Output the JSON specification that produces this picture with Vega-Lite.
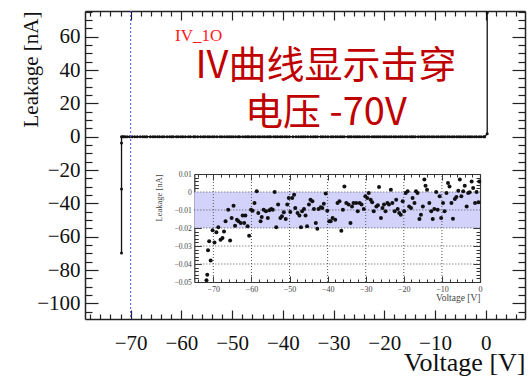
{
  "$schema": "https://vega.github.io/schema/vega-lite/v6.json",
  "width": 440,
  "height": 308,
  "autosize": {"type": "none"},
  "padding": {"left": 85, "top": 11, "right": 4, "bottom": 57},
  "background": "white",
  "config": {"view": {"stroke": null}, "font": "Liberation Serif"},
  "datasets": {
    "iv": [
      {"V": -71.8, "I": -69.8}, {"V": -71.8, "I": -31.4}, {"V": -71.8, "I": -3.8},
      {"V": -71.8, "I": -0.049}, {"V": -71.6, "I": -0.046}, {"V": -71.4, "I": -0.0324}, {"V": -71.1, "I": -0.0274},
      {"V": -70.7, "I": -0.038}, {"V": -70.2, "I": -0.0213}, {"V": -69.7, "I": -0.028}, {"V": -69.2, "I": -0.0224},
      {"V": -68.7, "I": -0.0196}, {"V": -68.1, "I": -0.0265}, {"V": -67.6, "I": -0.0256}, {"V": -67.2, "I": -0.0219},
      {"V": -66.8, "I": -0.0163}, {"V": -66.1, "I": -0.0098}, {"V": -65.6, "I": -0.027}, {"V": -65.2, "I": -0.0144},
      {"V": -64.7, "I": -0.0076}, {"V": -64.3, "I": -0.0187}, {"V": -63.8, "I": -0.0154}, {"V": -63.4, "I": -0.0163},
      {"V": -62.8, "I": -0.0172}, {"V": -62.3, "I": -0.0131}, {"V": -61.9, "I": -0.0172}, {"V": -61.6, "I": -0.0131},
      {"V": -61.0, "I": -0.019}, {"V": -60.6, "I": -0.0243}, {"V": -60.1, "I": -0.0098}, {"V": -59.7, "I": -0.0104},
      {"V": -59.2, "I": -0.0061}, {"V": -58.6, "I": 0.0004}, {"V": -58.2, "I": -0.0117}, {"V": -57.6, "I": -0.0163},
      {"V": -57.3, "I": -0.0139}, {"V": -56.8, "I": -0.0098}, {"V": -56.2, "I": -0.0107}, {"V": -55.7, "I": -0.0144},
      {"V": -55.3, "I": -0.0102}, {"V": -54.8, "I": -0.0094}, {"V": -54.4, "I": -0.0098}, {"V": -53.9, "I": 0.0},
      {"V": -53.5, "I": -0.0196}, {"V": -53.0, "I": -0.007}, {"V": -52.4, "I": -0.0144}, {"V": -52.0, "I": -0.0135},
      {"V": -51.5, "I": -0.0113}, {"V": -51.0, "I": -0.015}, {"V": -50.6, "I": -0.007}, {"V": -50.2, "I": -0.0033},
      {"V": -49.8, "I": -0.0111}, {"V": -49.3, "I": -0.0033}, {"V": -48.8, "I": -0.0015}, {"V": -48.5, "I": -0.0089},
      {"V": -47.9, "I": -0.0117}, {"V": -47.4, "I": -0.0131}, {"V": -47.0, "I": -0.0196}, {"V": -46.7, "I": -0.0107},
      {"V": -46.2, "I": -0.0094}, {"V": -45.8, "I": -0.0131}, {"V": -45.4, "I": -0.019}, {"V": -44.9, "I": -0.007},
      {"V": -44.5, "I": -0.0043}, {"V": -44.0, "I": -0.0052}, {"V": -43.6, "I": -0.0094}, {"V": -43.1, "I": -0.0172},
      {"V": -42.7, "I": -0.0204}, {"V": -42.4, "I": -0.0094}, {"V": -41.8, "I": -0.0085}, {"V": -41.4, "I": -0.0089},
      {"V": -41.0, "I": -0.0065}, {"V": -40.5, "I": -0.0009}, {"V": -40.1, "I": -0.0104}, {"V": -39.6, "I": -0.0163},
      {"V": -39.2, "I": -0.0163}, {"V": -38.7, "I": -0.0144}, {"V": -38.0, "I": -0.0154}, {"V": -37.4, "I": -0.0061},
      {"V": -36.9, "I": -0.0052}, {"V": -36.4, "I": -0.0215}, {"V": -36.0, "I": -0.0098}, {"V": -35.6, "I": 0.0031},
      {"V": -35.1, "I": -0.0061}, {"V": -34.5, "I": -0.007}, {"V": -34.0, "I": -0.0172}, {"V": -33.6, "I": -0.008},
      {"V": -33.2, "I": -0.0061}, {"V": -32.5, "I": -0.0061}, {"V": -32.1, "I": -0.0107}, {"V": -31.6, "I": -0.0061},
      {"V": -31.1, "I": -0.007}, {"V": -30.5, "I": -0.0094}, {"V": -30.1, "I": -0.0024}, {"V": -29.6, "I": -0.0033},
      {"V": -29.2, "I": -0.0006}, {"V": -28.7, "I": -0.0043}, {"V": -28.3, "I": -0.0057}, {"V": -27.9, "I": -0.0107},
      {"V": -27.2, "I": -0.008}, {"V": -26.8, "I": -0.0074}, {"V": -26.5, "I": 0.0028}, {"V": -26.0, "I": -0.0144},
      {"V": -25.6, "I": -0.0089}, {"V": -25.2, "I": -0.007}, {"V": -24.8, "I": -0.0107}, {"V": -24.3, "I": -0.0061},
      {"V": -23.9, "I": -0.007}, {"V": -23.4, "I": 0.0013}, {"V": -23.0, "I": -0.0061}, {"V": -22.4, "I": -0.0107},
      {"V": -22.0, "I": -0.0043}, {"V": -21.6, "I": -0.0094}, {"V": -21.2, "I": -0.0117}, {"V": -20.8, "I": -0.0126},
      {"V": -20.3, "I": -0.0052}, {"V": -19.9, "I": -0.0107}, {"V": -19.5, "I": -0.0006}, {"V": -19.0, "I": 0.0004},
      {"V": -18.6, "I": -0.008}, {"V": -18.1, "I": -0.0089}, {"V": -17.7, "I": -0.0033}, {"V": -17.2, "I": -0.0061},
      {"V": -16.8, "I": 0.0004}, {"V": -16.4, "I": -0.0006}, {"V": -15.9, "I": -0.015}, {"V": -15.5, "I": -0.0126},
      {"V": -15.0, "I": -0.008}, {"V": -14.6, "I": 0.0069}, {"V": -14.3, "I": 0.0035}, {"V": -13.9, "I": 0.0013},
      {"V": -13.3, "I": -0.0061}, {"V": -12.8, "I": -0.0107}, {"V": -12.4, "I": -0.015}, {"V": -12.0, "I": -0.0094},
      {"V": -11.5, "I": 0.0}, {"V": -11.1, "I": -0.0098}, {"V": -10.6, "I": -0.0024}, {"V": -10.2, "I": -0.0144},
      {"V": -9.7, "I": -0.0061}, {"V": -9.3, "I": -0.0107}, {"V": -8.8, "I": -0.0006}, {"V": -8.4, "I": 0.005},
      {"V": -8.0, "I": 0.0031}, {"V": -7.5, "I": -0.0061}, {"V": -7.1, "I": -0.0148}, {"V": -6.6, "I": -0.0039},
      {"V": -6.2, "I": -0.0028}, {"V": -5.7, "I": 0.0007}, {"V": -5.3, "I": 0.0069}, {"V": -4.9, "I": -0.0024},
      {"V": -4.4, "I": 0.0004}, {"V": -4.0, "I": 0.0035}, {"V": -3.5, "I": -0.008}, {"V": -3.1, "I": -0.0006},
      {"V": -2.7, "I": -0.0002}, {"V": -2.2, "I": 0.0059}, {"V": -1.8, "I": 0.0022}, {"V": -1.3, "I": -0.0061},
      {"V": -0.9, "I": 0.0}, {"V": -0.4, "I": -0.0057}, {"V": -0.2, "I": 0.0059},
      {"V": 0.3, "I": 1.8}, {"V": 0.3, "I": 74.4}
    ]
  },
  "resolve": {
    "scale": {"x": "independent", "y": "independent"},
    "axis": {"x": "independent", "y": "independent"}
  },
  "layer": [
    {
      "data": {"name": "iv"},
      "mark": {"type": "line", "color": "#111", "strokeWidth": 1.3, "point": {"filled": true, "size": 9, "color": "#111"}},
      "encoding": {
        "x": {
          "field": "V", "type": "quantitative",
          "scale": {"domain": [-79, 7.75], "nice": false, "zero": false},
          "axis": {
            "orient": "bottom",
            "values": [-78,-76,-74,-72,-70,-68,-66,-64,-62,-60,-58,-56,-54,-52,-50,-48,-46,-44,-42,-40,-38,-36,-34,-32,-30,-28,-26,-24,-22,-20,-18,-16,-14,-12,-10,-8,-6,-4,-2,0,2,4,6],
            "labelExpr": "datum.value % 10 === 0 ? datum.label : ''",
            "tickSize": {"condition": {"test": "datum.value % 10 === 0", "value": -9}, "value": -5},
            "tickColor": "#222", "tickWidth": 1.2,
            "domainColor": "#222", "domainWidth": 1.5,
            "labelFont": "Liberation Serif", "labelFontSize": 21, "labelColor": "#111", "labelPadding": 22,
            "labelFlush": false, "labelOverlap": false, "grid": false,
            "title": "Voltage [V]", "titleFont": "Liberation Serif", "titleFontSize": 26, "titleFontWeight": "normal",
            "titleAnchor": "end", "titleColor": "#111", "titlePadding": -8
          }
        },
        "y": {
          "field": "I", "type": "quantitative",
          "scale": {"domain": [-109.4, 75.4], "nice": false, "zero": false},
          "axis": {
            "orient": "left",
            "values": [-105,-100,-95,-90,-85,-80,-75,-70,-65,-60,-55,-50,-45,-40,-35,-30,-25,-20,-15,-10,-5,0,5,10,15,20,25,30,35,40,45,50,55,60,65,70,75],
            "labelExpr": "datum.value % 20 === 0 ? datum.label : ''",
            "tickSize": {"condition": {"test": "datum.value % 20 === 0", "value": -13}, "value": -7},
            "tickColor": "#222", "tickWidth": 1.2,
            "domainColor": "#222", "domainWidth": 1.5,
            "labelFont": "Liberation Serif", "labelFontSize": 21, "labelColor": "#111", "labelPadding": 18,
            "labelFlush": false, "labelOverlap": false, "grid": false,
            "title": "Leakage [nA]", "titleFont": "Liberation Serif", "titleFontSize": 21, "titleFontWeight": "normal",
            "titleAnchor": "end", "titleColor": "#111", "titlePadding": -5
          }
        },
        "order": {"value": null}
      }
    },
    {
      "data": {"name": "iv"},
      "mark": {"type": "point", "opacity": 0},
      "encoding": {
        "x": {
          "field": "V", "type": "quantitative",
          "scale": {"domain": [-79, 7.75], "nice": false, "zero": false},
          "axis": {
            "orient": "top",
            "values": [-78,-76,-74,-72,-70,-68,-66,-64,-62,-60,-58,-56,-54,-52,-50,-48,-46,-44,-42,-40,-38,-36,-34,-32,-30,-28,-26,-24,-22,-20,-18,-16,-14,-12,-10,-8,-6,-4,-2,0,2,4,6],
            "labels": false,
            "tickSize": {"condition": {"test": "datum.value % 10 === 0", "value": -9}, "value": -5},
            "tickColor": "#222", "tickWidth": 1.2,
            "domainColor": "#222", "domainWidth": 1.5, "grid": false, "title": null
          }
        },
        "y": {
          "field": "I", "type": "quantitative",
          "scale": {"domain": [-109.4, 75.4], "nice": false, "zero": false},
          "axis": {
            "orient": "right",
            "values": [-105,-100,-95,-90,-85,-80,-75,-70,-65,-60,-55,-50,-45,-40,-35,-30,-25,-20,-15,-10,-5,0,5,10,15,20,25,30,35,40,45,50,55,60,65,70,75],
            "labels": false,
            "tickSize": {"condition": {"test": "datum.value % 20 === 0", "value": -13}, "value": -7},
            "tickColor": "#222", "tickWidth": 1.2,
            "domainColor": "#222", "domainWidth": 1.5, "grid": false, "title": null
          }
        }
      }
    },
    {
      "data": {"values": [{}]},
      "mark": {"type": "rule", "color": "#5555ff", "strokeDash": [2, 2], "strokeWidth": 1},
      "encoding": {
        "x": {"datum": -70, "type": "quantitative", "scale": {"domain": [-79, 7.75], "nice": false, "zero": false}, "axis": null}
      }
    },
    {
      "data": {"values": [{}]},
      "mark": {"type": "text", "text": "IV_1O", "font": "Liberation Serif", "fontSize": 17, "color": "#ff1a1a", "align": "center", "baseline": "middle"},
      "encoding": {
        "x": {"datum": -56.6, "type": "quantitative", "scale": {"domain": [-79, 7.75], "nice": false, "zero": false}, "axis": null},
        "y": {"datum": 60.4, "type": "quantitative", "scale": {"domain": [-109.4, 75.4], "nice": false, "zero": false}, "axis": null}
      }
    },
    {
      "data": {"values": [{}]},
      "mark": {"type": "text", "text": "IV曲线显示击穿", "font": "Noto Sans CJK SC", "fontSize": 38, "color": "#c00000", "align": "center", "baseline": "middle"},
      "encoding": {
        "x": {"datum": -31.5, "type": "quantitative", "scale": {"domain": [-79, 7.75], "nice": false, "zero": false}, "axis": null},
        "y": {"datum": 41.8, "type": "quantitative", "scale": {"domain": [-109.4, 75.4], "nice": false, "zero": false}, "axis": null}
      }
    },
    {
      "data": {"values": [{}]},
      "mark": {"type": "text", "text": "电压 -70V", "font": "Noto Sans CJK SC", "fontSize": 38, "color": "#c00000", "align": "center", "baseline": "middle"},
      "encoding": {
        "x": {"datum": -31.5, "type": "quantitative", "scale": {"domain": [-79, 7.75], "nice": false, "zero": false}, "axis": null},
        "y": {"datum": 13.5, "type": "quantitative", "scale": {"domain": [-109.4, 75.4], "nice": false, "zero": false}, "axis": null}
      }
    },
    {
      "data": {"values": [{}]},
      "mark": {"type": "rect", "color": "#d2d2fa"},
      "encoding": {
        "x": {"datum": -75, "type": "quantitative", "scale": {"domain": [-75, 0], "range": [109.3, 395], "nice": false, "zero": false}, "axis": null},
        "x2": {"datum": 0},
        "y": {"datum": -0.02, "type": "quantitative", "scale": {"domain": [-0.05, 0.01], "range": [271, 163], "nice": false, "zero": false}, "axis": null},
        "y2": {"datum": 0}
      }
    },
    {
      "data": {"values": [{"g": 0}, {"g": -0.01}, {"g": -0.02}, {"g": -0.03}, {"g": -0.04}]},
      "mark": {"type": "rule", "color": "#555", "strokeDash": [1, 2], "strokeWidth": 1},
      "encoding": {
        "x": {"datum": -75, "type": "quantitative", "scale": {"domain": [-75, 0], "range": [109.3, 395], "nice": false, "zero": false}, "axis": null},
        "x2": {"datum": 0},
        "y": {"field": "g", "type": "quantitative", "scale": {"domain": [-0.05, 0.01], "range": [271, 163], "nice": false, "zero": false}, "axis": null}
      }
    },
    {
      "data": {"values": [{"g": -70}, {"g": -60}, {"g": -50}, {"g": -40}, {"g": -30}, {"g": -20}, {"g": -10}]},
      "mark": {"type": "rule", "color": "#555", "strokeDash": [1, 2], "strokeWidth": 1},
      "encoding": {
        "x": {"field": "g", "type": "quantitative", "scale": {"domain": [-75, 0], "range": [109.3, 395], "nice": false, "zero": false}, "axis": null},
        "y": {"datum": -0.05, "type": "quantitative", "scale": {"domain": [-0.05, 0.01], "range": [271, 163], "nice": false, "zero": false}, "axis": null},
        "y2": {"datum": 0.01}
      }
    },
    {
      "data": {"name": "iv"},
      "transform": [{"filter": "abs(datum.I) < 0.1"}],
      "mark": {"type": "circle", "size": 16, "color": "#111", "opacity": 1},
      "encoding": {
        "x": {
          "field": "V", "type": "quantitative",
          "scale": {"domain": [-75, 0], "range": [109.3, 395], "nice": false, "zero": false},
          "axis": {
            "orient": "bottom", "offset": -37,
            "values": [-74,-72,-70,-68,-66,-64,-62,-60,-58,-56,-54,-52,-50,-48,-46,-44,-42,-40,-38,-36,-34,-32,-30,-28,-26,-24,-22,-20,-18,-16,-14,-12,-10,-8,-6,-4,-2,0],
            "labelExpr": "datum.value % 10 === 0 ? datum.label : ''",
            "tickSize": {"condition": {"test": "datum.value % 10 === 0", "value": -6}, "value": -3},
            "tickColor": "#333", "tickWidth": 1,
            "domainColor": "#333", "domainWidth": 1.2,
            "labelFont": "Liberation Serif", "labelFontSize": 8, "labelColor": "#444", "labelPadding": 9,
            "labelFlush": false, "labelOverlap": false, "grid": false,
            "title": "Voltage [V]", "titleFont": "Liberation Serif", "titleFontSize": 9.5, "titleFontWeight": "normal",
            "titleAnchor": "end", "titleColor": "#444", "titlePadding": -4
          }
        },
        "y": {
          "field": "I", "type": "quantitative",
          "scale": {"domain": [-0.05, 0.01], "range": [271, 163], "nice": false, "zero": false},
          "axis": {
            "orient": "left", "offset": -109.3,
            "values": [-0.05,-0.048,-0.046,-0.044,-0.042,-0.04,-0.038,-0.036,-0.034,-0.032,-0.03,-0.028,-0.026,-0.024,-0.022,-0.02,-0.018,-0.016,-0.014,-0.012,-0.01,-0.008,-0.006,-0.004,-0.002,0,0.002,0.004,0.006,0.008,0.01],
            "format": ".2~f",
            "labelExpr": "abs(round(datum.value * 1000)) % 10 === 0 ? datum.label : ''",
            "tickSize": {"condition": {"test": "abs(round(datum.value * 1000)) % 10 === 0", "value": -7}, "value": -4},
            "tickColor": "#333", "tickWidth": 1,
            "domainColor": "#333", "domainWidth": 1.2,
            "labelFont": "Liberation Serif", "labelFontSize": 7.5, "labelColor": "#444", "labelPadding": 10,
            "labelFlush": false, "labelOverlap": false, "grid": false,
            "title": "Leakage [nA]", "titleFont": "Liberation Serif", "titleFontSize": 8.5, "titleFontWeight": "normal",
            "titleAnchor": "end", "titleColor": "#444", "titlePadding": 10
          }
        }
      }
    },
    {
      "data": {"name": "iv"},
      "transform": [{"filter": "abs(datum.I) < 0.1"}],
      "mark": {"type": "point", "opacity": 0},
      "encoding": {
        "x": {
          "field": "V", "type": "quantitative",
          "scale": {"domain": [-75, 0], "range": [109.3, 395], "nice": false, "zero": false},
          "axis": {
            "orient": "top", "offset": -163,
            "values": [-74,-72,-70,-68,-66,-64,-62,-60,-58,-56,-54,-52,-50,-48,-46,-44,-42,-40,-38,-36,-34,-32,-30,-28,-26,-24,-22,-20,-18,-16,-14,-12,-10,-8,-6,-4,-2,0],
            "labels": false,
            "tickSize": {"condition": {"test": "datum.value % 10 === 0", "value": -6}, "value": -3},
            "tickColor": "#333", "tickWidth": 1,
            "domainColor": "#333", "domainWidth": 1.2, "grid": false, "title": null
          }
        },
        "y": {
          "field": "I", "type": "quantitative",
          "scale": {"domain": [-0.05, 0.01], "range": [271, 163], "nice": false, "zero": false},
          "axis": {
            "orient": "right", "offset": -45,
            "values": [-0.05,-0.048,-0.046,-0.044,-0.042,-0.04,-0.038,-0.036,-0.034,-0.032,-0.03,-0.028,-0.026,-0.024,-0.022,-0.02,-0.018,-0.016,-0.014,-0.012,-0.01,-0.008,-0.006,-0.004,-0.002,0,0.002,0.004,0.006,0.008,0.01],
            "labels": false,
            "tickSize": {"condition": {"test": "abs(round(datum.value * 1000)) % 10 === 0", "value": -7}, "value": -4},
            "tickColor": "#333", "tickWidth": 1,
            "domainColor": "#333", "domainWidth": 1.2, "grid": false, "title": null
          }
        }
      }
    }
  ]
}
